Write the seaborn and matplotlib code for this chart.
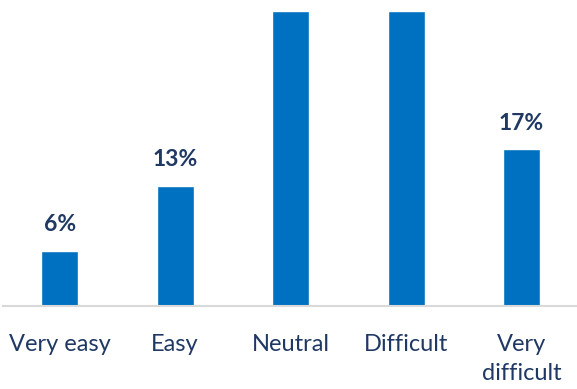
import matplotlib
matplotlib.use("Agg")
import matplotlib.pyplot as plt
import seaborn as sns
import pandas as pd

categories = ["Very easy", "Easy", "Neutral", "Difficult", "Very\ndifficult"]
values = [6, 13, 32, 32, 17]
labels = ["6%", "13%", "32%", "32%", "17%"]

df = pd.DataFrame({"cat": categories, "val": values})

sns.set_theme(style="white")
plt.rcParams['font.family'] = ['Lato', 'DejaVu Sans']

fig = plt.figure(figsize=(5.77, 3.89), dpi=100)
ax = fig.add_axes([3/577, 83/389, 574/577, 295/389])
sns.barplot(data=df, x="cat", y="val", color="#0070C0", saturation=1, width=0.32, ax=ax)

ymax = 32.0
ax.set_ylim(0, ymax)
ax.set_xlim(-0.49, 4.48)
for i, (v, t) in enumerate(zip(values, labels)):
    if v + 5 < ymax:
        ax.text(i, v + 1.7, t, ha="center", va="bottom", fontsize=16.5, fontweight="bold",
                color="#1F3864")

ax.set_xlabel("")
ax.set_ylabel("")
ax.set_yticks([])
for s in ["top", "right", "left"]:
    ax.spines[s].set_visible(False)
ax.spines["bottom"].set_color("#D9D9D9")
ax.spines["bottom"].set_linewidth(1.5)
ax.tick_params(axis="x", length=0, pad=20, labelsize=17, labelcolor="#1F3864")
for lbl in ax.get_xticklabels():
    lbl.set_linespacing(1.5)

fig.savefig("out.png", dpi=100)
